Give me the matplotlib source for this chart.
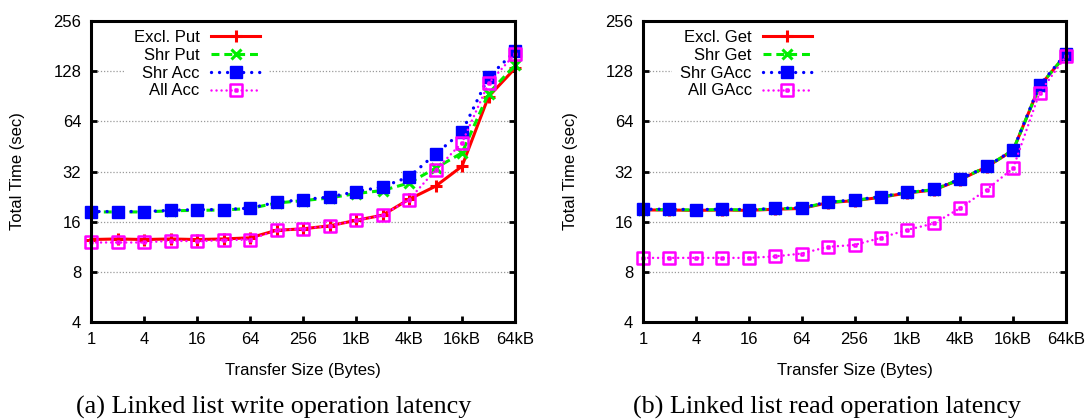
import numpy as np
import matplotlib
matplotlib.use("Agg")
import matplotlib.pyplot as plt
from matplotlib.path import Path

# ---------------- data ----------------
transfer_sizes = [1, 2, 4, 8, 16, 32, 64, 128, 256, 512, 1024, 2048,
                  4096, 8192, 16384, 32768, 65536]
x_tick_values = [1, 4, 16, 64, 256, 1024, 4096, 16384, 65536]
x_tick_labels = ['1', '4', '16', '64', '256', '1kB', '4kB', '16kB', '64kB']
y_tick_values = [4, 8, 16, 32, 64, 128, 256]
y_tick_labels = ['4', '8', '16', '32', '64', '128', '256']

# (a) write operations
excl_put = [12.5, 12.6, 12.5, 12.6, 12.5, 12.6, 12.8, 14.2, 14.5, 15.1, 16.3, 17.5, 21.8, 26.1, 34.4, 90, 133]
shr_put = [18.3, 18.3, 18.3, 18.6, 18.7, 18.8, 19.2, 20.7, 21.4, 22.2, 23.6, 24.6, 27.3, 33.5, 41.4, 94, 139]
shr_acc = [18.4, 18.4, 18.4, 18.7, 18.9, 18.9, 19.3, 20.9, 21.7, 22.5, 24.2, 25.9, 29.7, 40.7, 55.4, 118, 168]
all_acc = [12.0, 12.0, 12.0, 12.3, 12.2, 12.4, 12.5, 14.2, 14.5, 15.1, 16.3, 17.5, 21.7, 32.6, 47.6, 108, 162]

# (b) read operations
excl_get = [18.8, 18.8, 18.7, 18.8, 18.7, 19.0, 19.2, 20.8, 21.4, 22.4, 23.8, 24.8, 28.6, 34.1, 42.9, 104, 161]
shr_get = [18.9, 18.9, 18.8, 18.9, 18.8, 19.1, 19.3, 20.9, 21.5, 22.5, 23.9, 24.9, 28.7, 34.2, 43.0, 104, 161]
shr_gacc = [19.0, 19.0, 18.9, 19.0, 18.9, 19.2, 19.4, 21.0, 21.6, 22.6, 24.0, 25.0, 28.8, 34.3, 43.1, 105.5, 163]
all_gacc = [9.7, 9.7, 9.7, 9.7, 9.7, 9.9, 10.3, 11.3, 11.6, 12.8, 14.3, 15.6, 19.3, 24.9, 33.5, 95, 157.5]

left_labels = ['Excl. Put', 'Shr Put', 'Shr Acc', 'All Acc']
right_labels = ['Excl. Get', 'Shr Get', 'Shr GAcc', 'All GAcc']
caption_a = '(a) Linked list write operation latency'
caption_b = '(b) Linked list read operation latency'

# ---------------- style ----------------
plt.rcParams['font.family'] = ['Liberation Sans', 'DejaVu Sans']
FS = 12

# open square with centre dot (gnuplot style)
s_out, s_in = 1.0, 0.12
verts = [(-s_out, -s_out), (s_out, -s_out), (s_out, s_out), (-s_out, s_out), (0, 0),
         (-s_in, -s_in), (s_in, -s_in), (s_in, s_in), (-s_in, s_in), (0, 0)]
codes = [Path.MOVETO, Path.LINETO, Path.LINETO, Path.LINETO, Path.CLOSEPOLY] * 2
sq_dot = Path(verts, codes)

styles = [
    dict(color='#ff0000', ls='-', lw=2.2, marker='+', ms=8, mew=2.2,
         dash_capstyle='butt'),
    dict(color='#00ee00', ls=(0, (2.6, 1.6)), lw=2.2, marker='x', ms=7, mew=2.2,
         dash_capstyle='butt'),
    dict(color='#0000ff', ls=(0, (0.01, 2.4)), lw=2.4, marker='s', ms=8, mew=1.0,
         dash_capstyle='round'),
    dict(color='#ff00ff', ls=(0, (0.01, 2.0)), lw=1.8, marker=sq_dot, ms=9, mew=1.8,
         mfc='none', dash_capstyle='round'),
]

fig = plt.figure(figsize=(10.87, 4.19), dpi=100)
W, H = 1087.0, 419.0
ax_a = fig.add_axes([91 / W, 1 - 322 / H, 424 / W, 301 / H])
ax_b = fig.add_axes([643 / W, 1 - 322 / H, 423 / W, 301 / H])


def draw(ax, series, labels):
    for vals, lab, st in zip(series, labels, styles):
        ax.plot(transfer_sizes, vals, label=lab, clip_on=False, zorder=3, **st)
    ax.set_xscale('log', base=2)
    ax.set_yscale('log', base=2)
    ax.set_xlim(transfer_sizes[0], transfer_sizes[-1])
    ax.set_ylim(y_tick_values[0], y_tick_values[-1])
    ax.set_xticks(x_tick_values)
    ax.set_xticklabels(x_tick_labels)
    ax.set_yticks(y_tick_values)
    ax.set_yticklabels(y_tick_labels)
    ax.minorticks_off()
    ax.tick_params(axis='both', which='major', direction='in', length=4, width=2,
                   labelsize=FS, pad=7, colors='black')
    ax.tick_params(axis='y', right=True, left=True)
    ax.tick_params(axis='x', top=False, bottom=True)
    ax.yaxis.grid(True, color='#9a9a9a', linestyle=(0, (1, 1.5)), linewidth=0.9)
    ax.set_axisbelow(True)
    for sp in ax.spines.values():
        sp.set_linewidth(2.2)
        sp.set_zorder(4)
    ax.set_xlabel('Transfer Size (Bytes)', fontsize=FS)
    ax.set_ylabel('Total Time (sec)', fontsize=FS)
    ax.xaxis.label.set_va('center')
    ax.yaxis.label.set_va('center')
    bbox = ax.get_position()
    wpx = bbox.width * W
    ax.xaxis.set_label_coords(0.5, -(371 - 322) / 301)
    ax.yaxis.set_label_coords(-73 / wpx, 0.5)
    leg = ax.legend(loc='upper right', bbox_to_anchor=(177 / wpx, 0.998),
                    markerfirst=False, fontsize=FS, frameon=True, fancybox=False,
                    framealpha=1.0, facecolor='white', edgecolor='none',
                    borderpad=0.5, labelspacing=0.17, handlelength=2.9,
                    handletextpad=0.7, numpoints=1, borderaxespad=0)
    leg.set_zorder(3.5)


draw(ax_a, [excl_put, shr_put, shr_acc, all_acc], left_labels)
draw(ax_b, [excl_get, shr_get, shr_gacc, all_gacc], right_labels)

fig.text(274 / W, 1 - 414 / H, caption_a, ha='center', va='baseline',
         fontsize=18.8, family=['Liberation Serif', 'DejaVu Serif'])
fig.text(827 / W, 1 - 414 / H, caption_b, ha='center', va='baseline',
         fontsize=18.8, family=['Liberation Serif', 'DejaVu Serif'])

fig.savefig('out.png', dpi=100, facecolor='white')
